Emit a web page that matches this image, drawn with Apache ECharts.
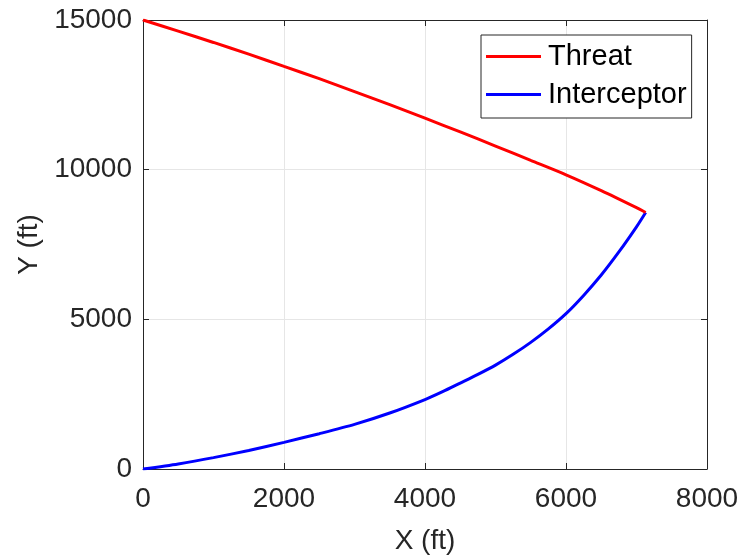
<!DOCTYPE html>
<html>
<head>
<meta charset="utf-8">
<script src="https://cdn.jsdelivr.net/npm/echarts@6/dist/echarts.min.js"></script>
<style>
  html, body { margin: 0; padding: 0; background: #ffffff; }
  #chart { width: 743px; height: 560px; }
</style>
</head>
<body>
<div id="chart"></div>
<script>
// Trajectories in feet: downrange X and altitude Y
const threatX = [0, 500, 1000, 1500, 2000, 2500, 3000, 3500, 4000, 4500, 5000, 5500, 6000, 6500, 7000, 7130];
const threatY = [15000, 14630, 14250, 13860, 13450, 13040, 12610, 12170, 11720, 11260, 10790, 10310, 9830, 9300, 8730, 8570];

const interceptorX = [0, 500, 1000, 1500, 2000, 2500, 3000, 3500, 4000, 4250, 4500, 4750, 5000, 5250, 5500, 5750, 6000, 6250, 6500, 6750, 7000, 7130];
const interceptorY = [0, 170, 380, 620, 890, 1180, 1490, 1870, 2320, 2582, 2870, 3160, 3470, 3830, 4230, 4680, 5190, 5800, 6480, 7250, 8090, 8570];

const xTicks = [0, 2000, 4000, 6000, 8000];
const yTicks = [0, 5000, 10000, 15000];

const seriesNames = ['Threat', 'Interceptor'];
const seriesColors = ['#ff0000', '#0000ff'];

const textColor = '#262626';
const fontFamily = 'Liberation Sans, Arial, Helvetica, sans-serif';
const fontSize = 28;

function pairs(xs, ys) {
  return xs.map((x, i) => [x, ys[i]]);
}

const plainNumber = v => String(v);

const axisBase = {
  type: 'value',
  axisLine: { show: true, onZero: false, lineStyle: { color: textColor, width: 1 } },
  axisTick: { show: true, inside: true, length: 6, lineStyle: { color: textColor, width: 1 } },
  splitLine: { show: false },
  axisLabel: { show: false }
};

const chart = echarts.init(document.getElementById('chart'), null, { renderer: 'canvas' });

chart.setOption({
  animation: false,
  backgroundColor: '#ffffff',
  textStyle: { fontFamily: fontFamily },
  grid: { left: 143, top: 20, right: 36, bottom: 91, containLabel: false },
  legend: {
    data: seriesNames,
    orient: 'vertical',
    left: 481,
    top: 35,
    padding: [6, 5, 8, 5],
    itemGap: 7,
    itemWidth: 55,
    itemHeight: 3,
    icon: 'rect',
    backgroundColor: '#ffffff',
    borderColor: textColor,
    borderWidth: 1,
    borderRadius: 0,
    textStyle: { color: '#000000', fontSize: 29, fontFamily: fontFamily, lineHeight: 31, padding: [0, 0, 0, 2] }
  },
  xAxis: [
    Object.assign({}, axisBase, {
      min: xTicks[0], max: xTicks[xTicks.length - 1], interval: xTicks[1] - xTicks[0],
      position: 'bottom',
      name: 'X (ft)',
      nameLocation: 'middle',
      nameGap: 58,
      nameTextStyle: { color: textColor, fontSize: fontSize, fontFamily: fontFamily },
      axisLabel: { show: true, color: textColor, fontSize: fontSize, fontFamily: fontFamily, margin: 16, formatter: plainNumber },
      splitLine: { show: true, lineStyle: { color: '#e6e6e6', width: 1 } }
    }),
    Object.assign({}, axisBase, {
      min: xTicks[0], max: xTicks[xTicks.length - 1], interval: xTicks[1] - xTicks[0],
      position: 'top'
    })
  ],
  yAxis: [
    Object.assign({}, axisBase, {
      min: yTicks[0], max: yTicks[yTicks.length - 1], interval: yTicks[1] - yTicks[0],
      position: 'left',
      name: 'Y (ft)',
      nameLocation: 'middle',
      nameGap: 96,
      nameTextStyle: { color: textColor, fontSize: fontSize, fontFamily: fontFamily },
      axisLabel: { show: true, color: textColor, fontSize: fontSize, fontFamily: fontFamily, margin: 11, formatter: plainNumber },
      splitLine: { show: true, lineStyle: { color: '#e6e6e6', width: 1 } }
    }),
    Object.assign({}, axisBase, {
      min: yTicks[0], max: yTicks[yTicks.length - 1], interval: yTicks[1] - yTicks[0],
      position: 'right'
    })
  ],
  series: [
    {
      name: seriesNames[0],
      type: 'line',
      data: pairs(threatX, threatY),
      showSymbol: false,
      smooth: 0.25,
      color: seriesColors[0],
      lineStyle: { color: seriesColors[0], width: 3 },
      z: 3
    },
    {
      name: seriesNames[1],
      type: 'line',
      data: pairs(interceptorX, interceptorY),
      showSymbol: false,
      smooth: 0.25,
      color: seriesColors[1],
      lineStyle: { color: seriesColors[1], width: 3 },
      z: 2
    }
  ]
});
</script>
</body>
</html>
